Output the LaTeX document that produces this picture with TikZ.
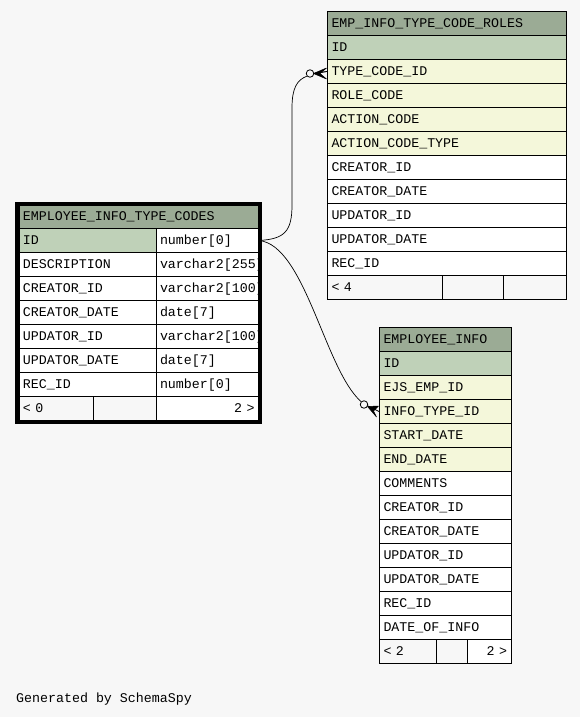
\documentclass[tikz,border=0pt]{standalone}
\usepackage{fontspec}
\newfontfamily\cellfont{Liberation Mono}
\definecolor{bg}{RGB}{247,247,247}
\definecolor{hdr}{RGB}{155,171,149}
\definecolor{pk}{RGB}{191,209,184}
\definecolor{fk}{RGB}{244,247,218}
\tikzset{
  cell/.style={draw=black, line width=1pt, anchor=north west, minimum height=24pt,
    inner xsep=4pt, inner ysep=0pt, text height=11pt, text depth=3pt, align=left,
    font=\fontsize{13.3}{16}\selectfont\cellfont, fill=white},
  rcell/.style={cell, align=right},
  foot/.style={cell, fill=bg},
  rel/.style={draw=black, line width=0.7pt},
  opt/.style={circle, draw=black, fill=bg, minimum size=7.5pt, inner sep=0pt, line width=0.8pt},
  crow/.style={fill=black, draw=black, line width=0.5pt, line join=round}
}
\begin{document}
\begin{tikzpicture}[x=1pt,y=-1pt]
\fill[bg] (0,0) rectangle (580,717);
\useasboundingbox (0,0) rectangle (580,717);

% ---------- EMPLOYEE_INFO_TYPE_CODES ----------
\node[cell, fill=hdr, text width=231.5pt] (lt-h) at (18.5,204) {EMPLOYEE\_INFO\_TYPE\_CODES};
\node[cell, fill=pk, text width=129pt] (lt-n0) at (18.5,228) {ID};
\foreach \n [count=\i from 1] in {DESCRIPTION,CREATOR\_ID,CREATOR\_DATE,UPDATOR\_ID,UPDATOR\_DATE,REC\_ID}
  \node[cell, text width=129pt] (lt-n\i) at (18.5,228+24*\i) {\n};
\begin{scope}
  \clip (155,200) rectangle (258.5,425);
  \node[cell, text width=94.5pt] (lt-t0) at (155.5,228) {number[0]};
  \foreach \t [count=\i from 1] in {varchar2[255],varchar2[100],date[7],varchar2[100],date[7],number[0]}
    \node[cell, text width=94.5pt] (lt-t\i) at (155.5,228+24*\i) {\t};
  \node[foot, rcell, text width=94.5pt] (lt-f3) at (155.5,396) {2 >};
\end{scope}
\node[foot, text width=66.5pt] (lt-f1) at (18.5,396) {< 0};
\node[foot, text width=54.5pt] (lt-f2) at (93,396) {};
\draw[line width=4pt] (17,204) rectangle (260,421.5);

% ---------- EMP_INFO_TYPE_CODE_ROLES ----------
\node[cell, fill=hdr, text width=230.5pt] (rt-h) at (327,11.5) {EMP\_INFO\_TYPE\_CODE\_ROLES};
\node[cell, fill=pk, text width=230.5pt] (rt-n0) at (327,35) {ID};
\foreach \n [count=\i from 1] in {TYPE\_CODE\_ID,ROLE\_CODE,ACTION\_CODE,ACTION\_CODE\_TYPE}
  \node[cell, fill=fk, text width=230.5pt] (rt-n\i) at (327,35+24*\i) {\n};
\foreach \n [count=\i from 5] in {CREATOR\_ID,CREATOR\_DATE,UPDATOR\_ID,UPDATOR\_DATE,REC\_ID}
  \node[cell, text width=230.5pt] (rt-n\i) at (327,35+24*\i) {\n};
\node[foot, text width=107pt] (rt-f1) at (327,275) {< 4};
\node[foot, text width=53pt] (rt-f2) at (442,275) {};
\node[foot, text width=54.5pt] (rt-f3) at (503,275) {};

% ---------- EMPLOYEE_INFO ----------
\node[cell, fill=hdr, text width=123.5pt] (ei-h) at (379,327) {EMPLOYEE\_INFO};
\node[cell, fill=pk, text width=123.5pt] (ei-n0) at (379,351) {ID};
\foreach \n [count=\i from 1] in {EJS\_EMP\_ID,INFO\_TYPE\_ID,START\_DATE,END\_DATE}
  \node[cell, fill=fk, text width=123.5pt] (ei-n\i) at (379,351+24*\i) {\n};
\foreach \n [count=\i from 5] in {COMMENTS,CREATOR\_ID,CREATOR\_DATE,UPDATOR\_ID,UPDATOR\_DATE,REC\_ID,DATE\_OF\_INFO}
  \node[cell, text width=123.5pt] (ei-n\i) at (379,351+24*\i) {\n};
\node[foot, text width=49pt] (ei-f1) at (379,639) {< 2};
\node[foot, text width=23pt] (ei-f2) at (436,639) {};
\node[foot, rcell, text width=35.5pt] (ei-f3) at (467,639) {2 >};

% ---------- relationships ----------
\node[opt] (c1) at (310,73.5) {};
\coordinate (k1) at (313.5,73.5);
\draw[rel] (lt-t0.east) .. controls (284,239) and (292,232) .. (292,205)
  -- (292,108) .. controls (292,88) and (297,80) .. (c1.220);
\draw[rel] (c1.east) -- (rt-n1.west);
\fill[crow] (k1) -- (326.5,68) -- (320,73.5) -- (326.5,79) -- cycle;
\draw[rel] (k1) -- (rt-n1.west);

\node[opt] (c2) at (364,404.5) {};
\coordinate (k2) at (367.5,406.5);
\draw[rel] (lt-t0.east) .. controls (305,245) and (325,370) .. (c2.135);
\draw[rel] (c2.-20) -- (ei-n2.west);
\fill[crow] (k2) -- (378.5,406) -- (373.5,411) -- (376.5,417) -- cycle;

% ---------- footer ----------
\node[anchor=base west, inner sep=0pt, font=\fontsize{13.3}{16}\selectfont\cellfont] (gen) at (16,702) {Generated by SchemaSpy};
\end{tikzpicture}
\end{document}
